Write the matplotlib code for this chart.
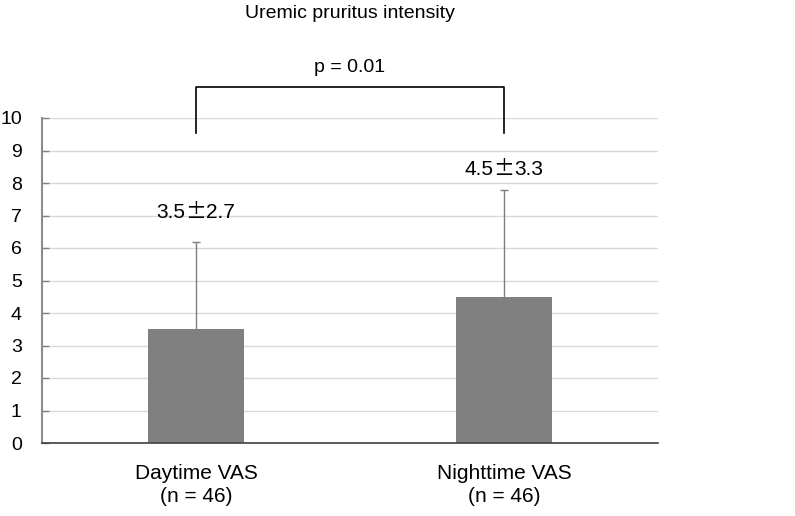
import numpy as np
import matplotlib.pyplot as plt
import matplotlib as mpl
from matplotlib.transforms import offset_copy

mpl.rcParams['font.family'] = ['Liberation Sans', 'DejaVu Sans']

categories = ['Daytime VAS\n(n = 46)', 'Nighttime VAS\n(n = 46)']
means = [3.5, 4.5]
sds = [2.7, 3.3]
p_label = 'p = 0.01'
title = 'Uremic pruritus intensity'
yticks = list(range(0, 11))

fig = plt.figure(figsize=(7.95, 5.16), dpi=100)
ax = fig.add_axes([42 / 795, 1 - 443 / 516, 616 / 795, 325 / 516])

x = np.arange(len(categories))
ax.bar(x, means, width=0.31, color='#808080', zorder=2)
ax.errorbar(x, means, yerr=sds, fmt='none', ecolor='#7f7f7f',
            elinewidth=1, capsize=3, capthick=1, zorder=3)

# "mean±sd" labels, the ± sign is a wide glyph in the original
label_y = [7.1, 8.43]
for xi, m, s, ly in zip(x, means, sds, label_y):
    ax.text(xi, ly, '\u00b1', ha='center', va='center', fontsize=15,
            family=['Noto Sans CJK JP', 'DejaVu Sans'])
    left = offset_copy(ax.transData, fig=fig, x=-7.5, y=0, units='points')
    right = offset_copy(ax.transData, fig=fig, x=7.5, y=0, units='points')
    ax.text(xi, ly, f'{m}', ha='right', va='center', fontsize=15,
            transform=left)
    ax.text(xi, ly, f'{s}', ha='left', va='center', fontsize=15,
            transform=right)

# significance bracket
ax.plot([x[0], x[0], x[1], x[1]], [9.55, 10.95, 10.95, 9.55],
        color='black', lw=1.2, clip_on=False, zorder=4)
ax.text((x[0] + x[1]) / 2, 11.55, p_label, ha='center', va='center',
        fontsize=14)

ax.set_xlim(-0.5, 1.5)
ax.set_ylim(0, 10)
ax.set_yticks(yticks)
ax.set_xticks(x)
ax.set_xticklabels(categories, fontsize=15, linespacing=1.3)
ax.tick_params(axis='x', length=0, pad=15)
ax.tick_params(axis='y', direction='in', length=5, width=1,
               color='#808080', labelsize=14, pad=14.5)
ax.yaxis.grid(True, color='#d9d9d9', lw=1, zorder=0)
ax.set_axisbelow(True)

for side in ['top', 'right']:
    ax.spines[side].set_visible(False)
ax.spines['left'].set_color('#8c8c8c')
ax.spines['left'].set_linewidth(1.5)
ax.spines['bottom'].set_color('#404040')
ax.spines['bottom'].set_linewidth(1.2)

fig.text(350 / 795, 1 - 13 / 516, title, ha='center', va='center',
         fontsize=14)

fig.savefig('out.png', dpi=100)
